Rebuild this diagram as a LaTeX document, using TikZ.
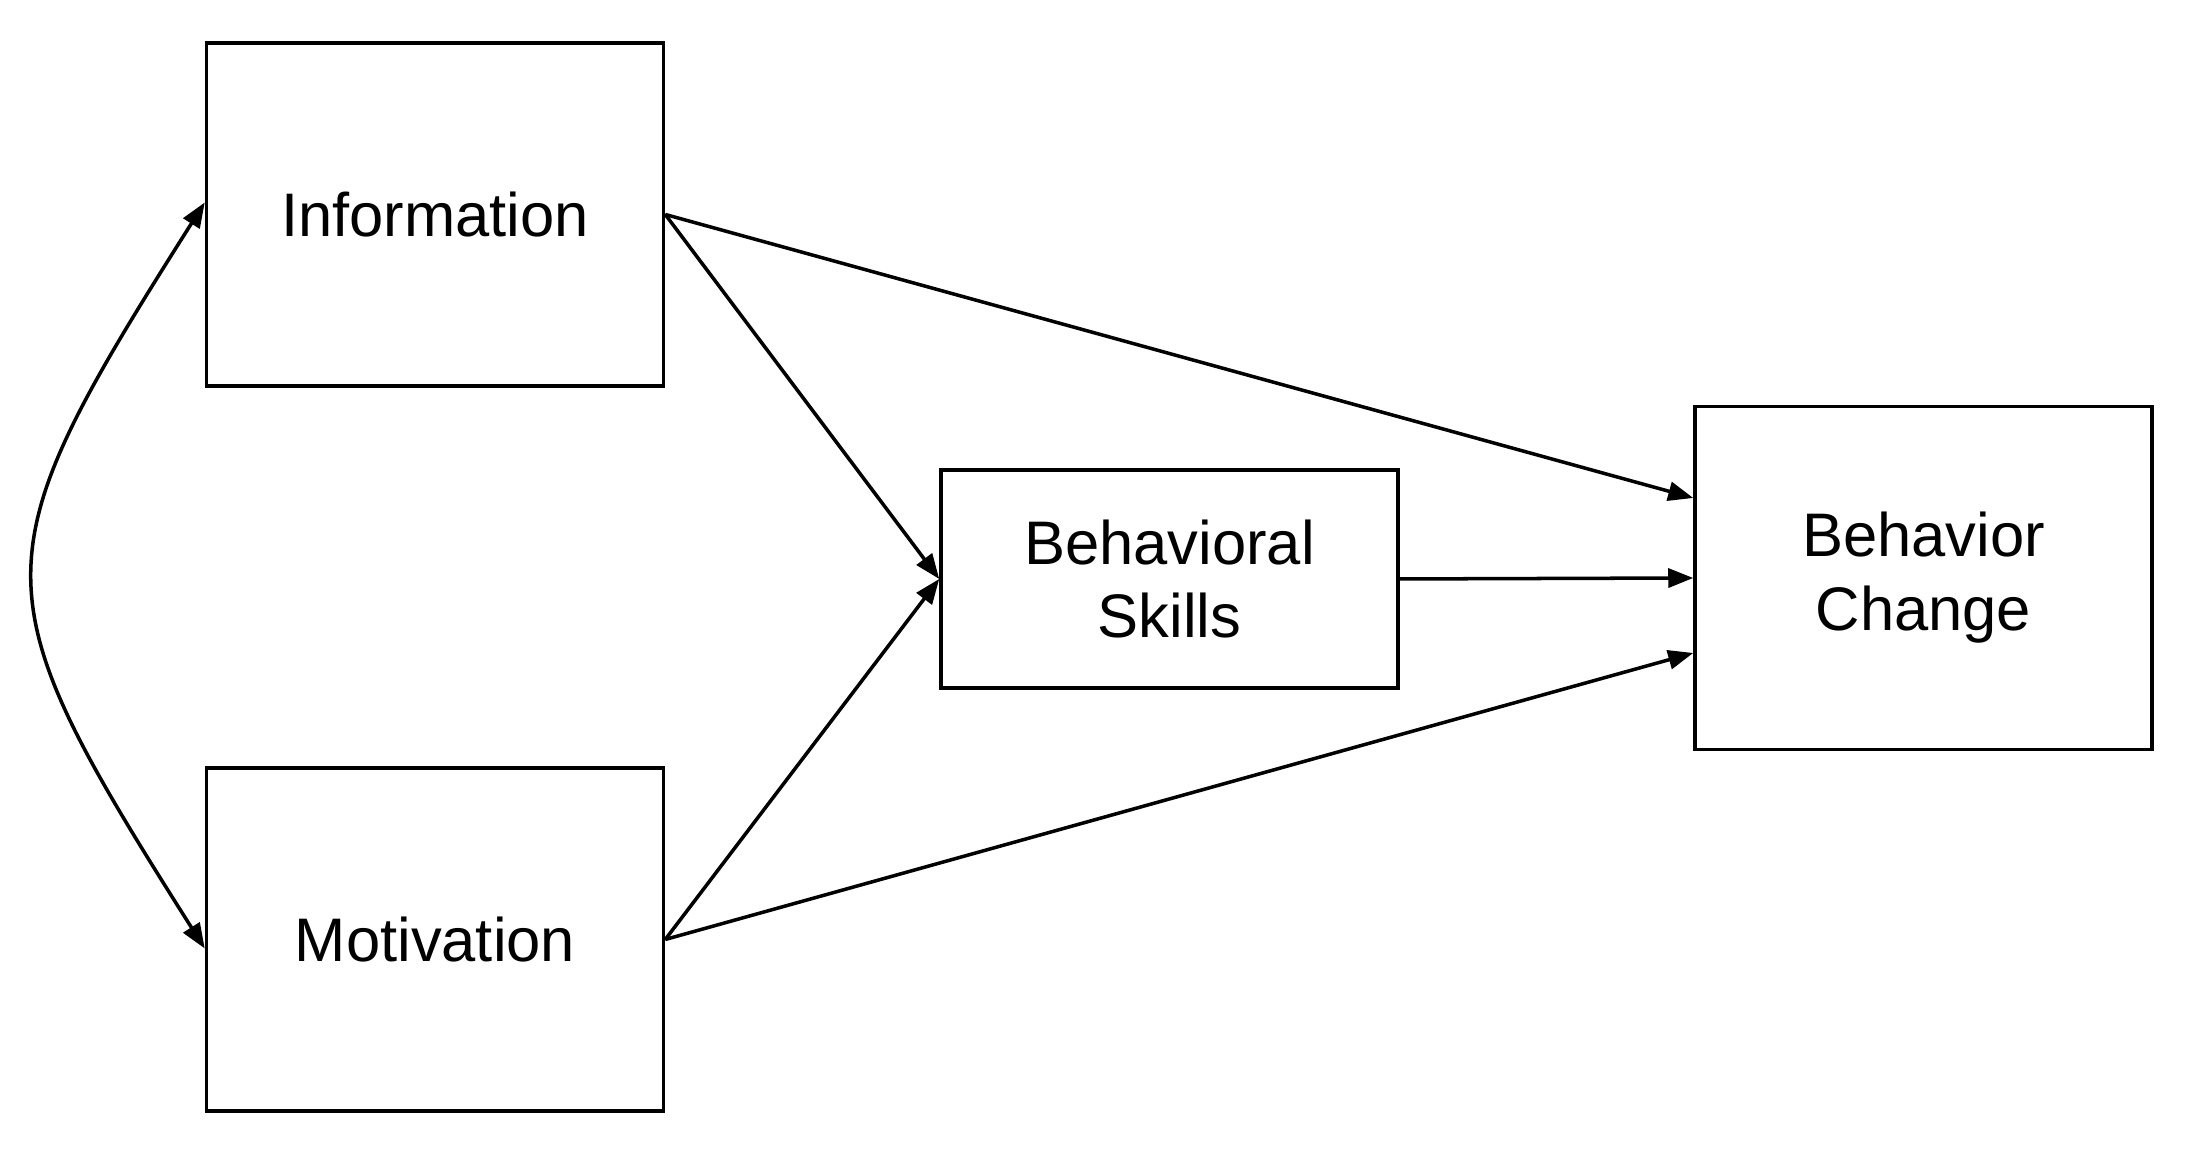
\documentclass[tikz,border=0pt]{standalone}
\usepackage{fontspec}
\setmainfont{Liberation Sans}
\usetikzlibrary{arrows.meta}

\begin{document}
\begin{tikzpicture}[
  box/.style={rectangle, draw, line width=1pt, minimum width=4.57cm, align=center, font=\fontsize{17.5}{21}\selectfont},
  link/.style={-{Triangle[length=0.25cm, width=0.19cm]}, line width=1pt},
  node distance=7.25cm
]
\useasboundingbox (0,0) rectangle (21.87,11.5);

\node[box, minimum height=3.43cm] (info) at (4.35,9.355) {Information};
\node[box, minimum height=3.43cm, below of=info] (motiv) {Motivation};
\node[box, minimum height=2.18cm] (skills) at (11.695,5.71) {Behavioral\\Skills};
\node[box, minimum height=3.43cm] (change) at (19.235,5.72) {Behavior\\Change};

\draw[link] (info.east) -- (skills.west);
\draw[link] (motiv.east) -- (skills.west);
\draw[link] (skills.east) -- (change.west);
\draw[link] (info.east) -- ([yshift=0.8cm]change.west);
\draw[link] (motiv.east) -- ([yshift=-0.75cm]change.west);

% correlation between information and motivation
\draw[link, {Triangle[length=0.25cm, width=0.19cm]}-{Triangle[length=0.25cm, width=0.19cm]}]
  ([yshift=0.12cm]info.west) .. controls (-0.23,5.88) and (-0.23,5.61) .. ([yshift=-0.09cm]motiv.west);
\end{tikzpicture}
\end{document}
